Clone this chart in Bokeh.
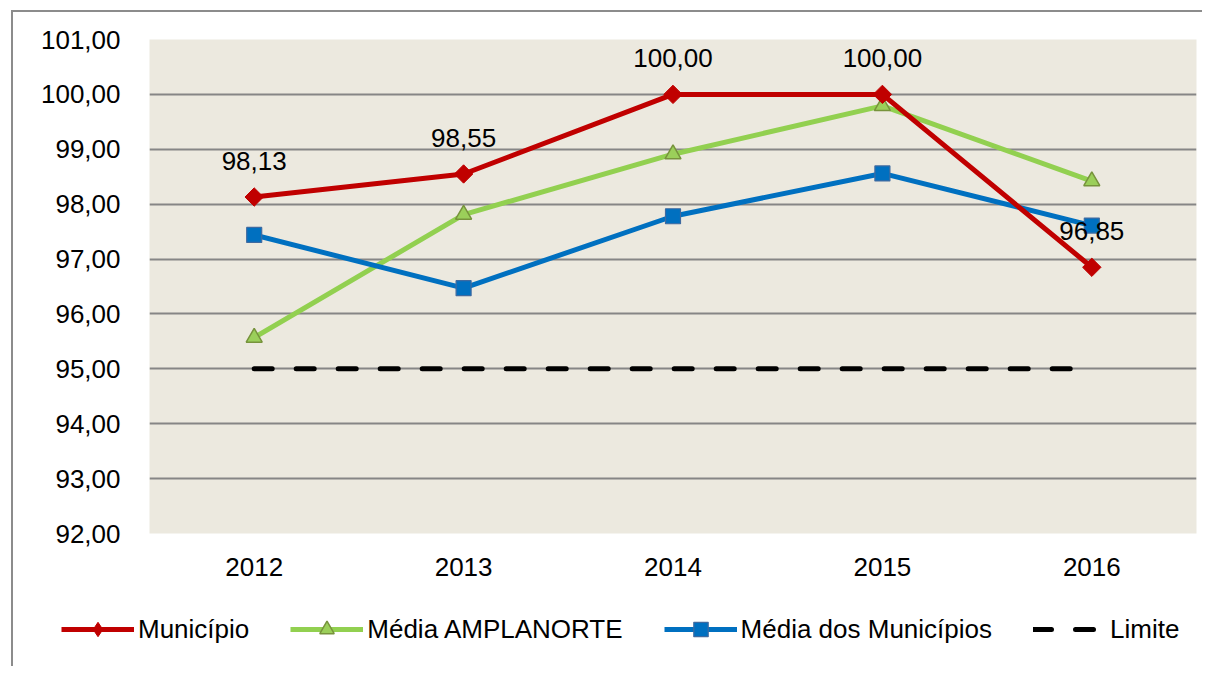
import math
from bokeh.plotting import figure
from bokeh.layouts import column, row
from bokeh.models import (ColumnDataSource, FactorRange, Range1d, LabelSet, Legend,
                          LegendItem, CustomJSTickFormatter, FixedTicker)
from bokeh.core.properties import value
from bokeh.embed import file_html
from bokeh.resources import INLINE

# ---- data ----
years = ["2012", "2013", "2014", "2015", "2016"]
municipio = [98.13, 98.55, 100.00, 100.00, 96.85]
media_amplanorte = [95.57, 97.81, 98.91, 99.79, 98.42]
media_municipios = [97.44, 96.47, 97.78, 98.56, 97.61]
limite = [95.00, 95.00, 95.00, 95.00, 95.00]
y_ticks = [92, 93, 94, 95, 96, 97, 98, 99, 100, 101]
series_names = ["Município", "Média AMPLANORTE", "Média dos Municípios", "Limite"]

FONT = "Liberation Sans"
FS = "26px"

RED, GREEN, BLUE = "#C00000", "#92D050", "#0070C0"

src = ColumnDataSource(dict(
    x=years, mun=municipio, amp=media_amplanorte, med=media_municipios, lim=limite,
    mun_lbl=[f"{v:.2f}".replace(".", ",") for v in municipio],
))

p = figure(x_range=FactorRange(*years), y_range=Range1d(92, 101),
           width=1189, height=580, output_backend="svg", toolbar_location=None,
           min_border_left=136, min_border_top=27, min_border_right=6, min_border_bottom=59,
           background_fill_color="#ECE9DF", border_fill_color="white",
           outline_line_color=None)

p.xgrid.grid_line_color = None
p.ygrid.grid_line_color = "#868686"
p.ygrid.grid_line_width = 2
p.yaxis.ticker = FixedTicker(ticks=y_ticks)
p.yaxis.formatter = CustomJSTickFormatter(code="return tick.toFixed(2).replace('.', ',');")

for ax in (p.xaxis, p.yaxis):
    ax.axis_line_color = None
    ax.major_tick_line_color = None
    ax.minor_tick_line_color = None
    ax.major_label_text_font = FONT
    ax.major_label_text_font_size = FS
    ax.major_label_text_color = "black"
p.yaxis.major_label_standoff = 23
p.xaxis.major_label_standoff = 18

LIM_STYLE = dict(line_color="black", line_width=5, line_dash="18 24", line_cap="round")
AMP_LINE = dict(line_color=GREEN, line_width=5, line_join="round")
AMP_PTS = dict(marker="triangle", size=16, fill_color="#9BCF5A", line_color="#77933C", line_width=1.5)
MED_LINE = dict(line_color=BLUE, line_width=5, line_join="round")
MED_PTS = dict(marker="square", size=15, fill_color=BLUE, line_color="#3F6AA0", line_width=1.2)
MUN_LINE = dict(line_color=RED, line_width=5, line_join="round")
MUN_PTS = dict(marker="square", angle=math.pi / 4, size=13, fill_color=RED, line_color=RED, line_width=1)
MUN_PTS_LEG = dict(marker="diamond", size=26, fill_color=RED, line_color=RED, line_width=1)

p.line("x", "lim", source=src, **LIM_STYLE)
p.line("x", "amp", source=src, **AMP_LINE)
p.scatter("x", "amp", source=src, **AMP_PTS)
p.line("x", "med", source=src, **MED_LINE)
p.scatter("x", "med", source=src, **MED_PTS)
p.line("x", "mun", source=src, **MUN_LINE)
p.scatter("x", "mun", source=src, **MUN_PTS)

labels = LabelSet(x="x", y="mun", text="mun_lbl", source=src, y_offset=36,
                  text_align="center", text_baseline="middle",
                  text_font=value(FONT), text_font_size=FS, text_color="black")
p.add_layout(labels)

# ---- legend strip (separate figure; its y range hides the series) ----
lf = figure(width=1189, height=74, output_backend="svg", toolbar_location=None,
            x_range=FactorRange(*years), y_range=Range1d(0, 1),
            min_border_left=0, min_border_right=0, min_border_top=0, min_border_bottom=0,
            x_axis_type=None, y_axis_type=None, outline_line_color=None,
            background_fill_color="white", border_fill_color="white")
lf.grid.visible = False
l_mun = lf.line("x", "mun", source=src, **MUN_LINE)
s_mun = lf.scatter("x", "mun", source=src, **MUN_PTS_LEG)
l_amp = lf.line("x", "amp", source=src, **AMP_LINE)
s_amp = lf.scatter("x", "amp", source=src, **AMP_PTS)
l_med = lf.line("x", "med", source=src, **MED_LINE)
s_med = lf.scatter("x", "med", source=src, **MED_PTS)
l_lim = lf.line("x", "lim", source=src, **LIM_STYLE)

legend = Legend(items=[
    LegendItem(label=series_names[0], renderers=[l_mun, s_mun]),
    LegendItem(label=series_names[1], renderers=[l_amp, s_amp]),
    LegendItem(label=series_names[2], renderers=[l_med, s_med]),
    LegendItem(label=series_names[3], renderers=[l_lim]),
], orientation="horizontal", location=(48, 19), padding=0, margin=0,
    spacing=41, label_standoff=4, glyph_width=73, glyph_height=36, label_height=36,
    label_text_font=FONT, label_text_font_size=FS, label_text_color="black",
    background_fill_alpha=0, border_line_color=None)
lf.add_layout(legend, "center")

layout = column(p, row(lf), spacing=0)
layout.margin = (10, 0, 0, 11)
layout.styles = {"border-left": "2px solid #8C8C8C", "border-top": "2px solid #8C8C8C"}

open("out.html", "w").write(file_html(layout, INLINE))
